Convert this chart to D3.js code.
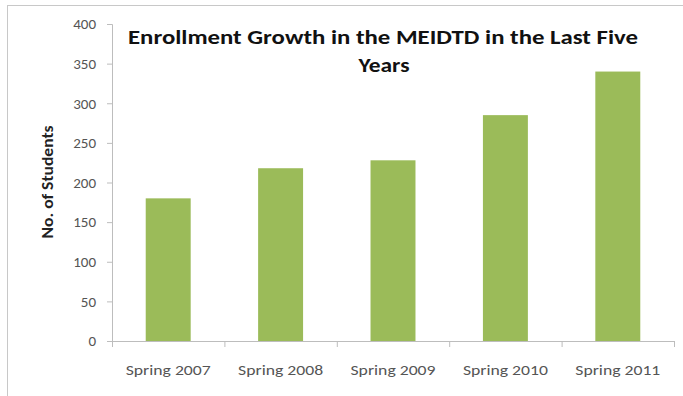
<!DOCTYPE html>
<html>
<head>
<meta charset="utf-8">
<script src="https://cdn.jsdelivr.net/npm/d3@7"></script>
<style>
  body { margin: 0; background: #fff; }
  text { font-family: Carlito, Lato, "Open Sans", sans-serif; }
</style>
</head>
<body>
<div id="chart"></div>
<script>
'use strict';

const categories = ['Spring 2007', 'Spring 2008', 'Spring 2009', 'Spring 2010', 'Spring 2011'];
const students = [180, 218, 228, 285, 340];
const yTicks = [0, 50, 100, 150, 200, 250, 300, 350, 400];

let width = 683,
    height = 396;

let svg = d3.select('#chart')
  .append('svg')
    .attr('width', width)
    .attr('height', height);

// outer frame
svg.append('rect')
  .attr('x', 7.5).attr('y', 5.5)
  .attr('width', width).attr('height', height)
  .attr('fill', 'none')
  .attr('stroke', '#c8c8c8');

let plotLeft = 112, plotRight = 674, plotTop = 24, plotBottom = 341;

let x = d3.scaleBand()
  .domain(categories)
  .range([plotLeft, plotRight])
  .paddingInner(0.6)
  .paddingOuter(0.3);

let xGroup = d3.scaleBand()
  .domain(categories)
  .range([plotLeft, plotRight]);

let y = d3.scaleLinear()
  .domain([0, 400])
  .range([plotBottom, plotTop]);

// y axis
let yAxis = svg.append('g')
  .attr('transform', 'translate(' + plotLeft + ',0)')
  .call(d3.axisLeft(y).tickValues(yTicks).tickSize(5).tickPadding(11));
yAxis.select('.domain').attr('stroke', '#bdbdbd');
yAxis.selectAll('.tick line').attr('stroke', '#bdbdbd');
yAxis.selectAll('.tick text')
  .attr('fill', '#555')
  .style('font-size', '15px');

// bars
svg.selectAll('rect.bar')
  .data(students)
  .enter().append('rect')
    .attr('class', 'bar')
    .attr('x', (d, i) => x(categories[i]))
    .attr('y', d => y(d))
    .attr('width', x.bandwidth())
    .attr('height', d => y(0) - y(d))
    .attr('fill', '#9bbb59');

// x axis
let xAxis = svg.append('g')
  .attr('transform', 'translate(0,' + plotBottom + ')');
xAxis.append('line')
  .attr('x1', plotLeft).attr('x2', plotRight)
  .attr('y1', 0.5).attr('y2', 0.5)
  .attr('stroke', '#bdbdbd');
xAxis.selectAll('line.tk')
  .data(categories.concat(['end']))
  .enter().append('line')
    .attr('class', 'tk')
    .attr('x1', (d, i) => plotLeft + i * xGroup.bandwidth() + 0.5)
    .attr('x2', (d, i) => plotLeft + i * xGroup.bandwidth() + 0.5)
    .attr('y1', 0).attr('y2', 6)
    .attr('stroke', '#bdbdbd');
xAxis.selectAll('text')
  .data(categories)
  .enter().append('text')
    .attr('x', d => xGroup(d) + xGroup.bandwidth() / 2)
    .attr('y', 34)
    .attr('text-anchor', 'middle')
    .attr('fill', '#555')
    .style('font-size', '15px')
    .attr('textLength', 85)
    .attr('lengthAdjust', 'spacingAndGlyphs')
    .text(d => d);

// y axis title
svg.append('text')
  .attr('transform', 'translate(53,' + 182 + ') rotate(-90)')
  .attr('text-anchor', 'middle')
  .style('font-size', '15px')
  .style('font-weight', 'bold')
  .attr('fill', '#222')
  .attr('textLength', 113)
  .attr('lengthAdjust', 'spacingAndGlyphs')
  .text('No. of Students');

// chart title
let title = svg.append('text')
  .attr('text-anchor', 'middle')
  .style('font-size', '21px')
  .style('font-weight', 'bold')
  .attr('fill', '#111');
title.append('tspan')
  .attr('x', 383).attr('y', 44)
  .attr('textLength', 510)
  .attr('lengthAdjust', 'spacingAndGlyphs')
  .text('Enrollment Growth in the MEIDTD in the Last Five');
title.append('tspan')
  .attr('x', 384).attr('y', 72)
  .attr('textLength', 51)
  .attr('lengthAdjust', 'spacingAndGlyphs')
  .text('Years');
</script>
</body>
</html>
